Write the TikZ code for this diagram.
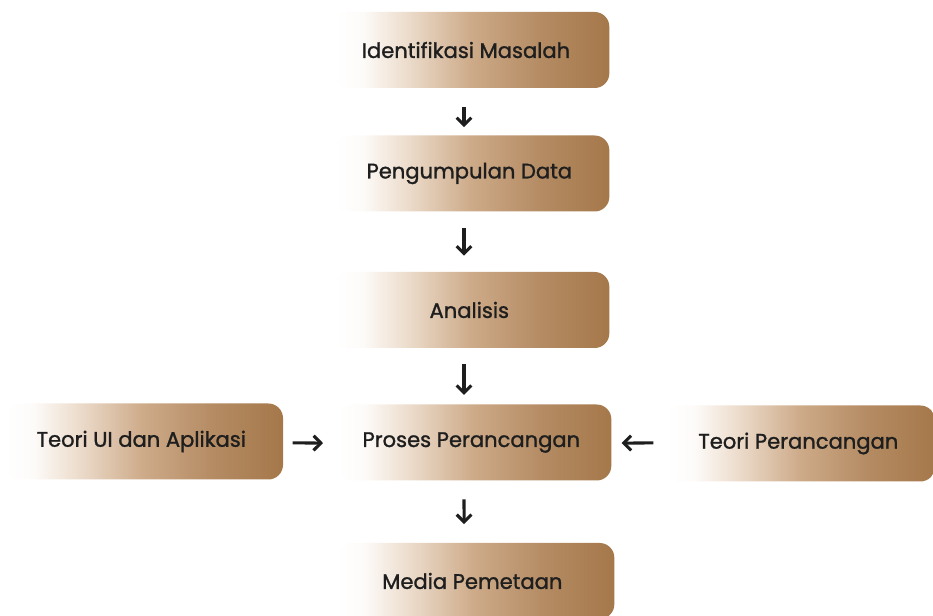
\documentclass[tikz,border=0pt]{standalone}
\usepackage{fontspec}
\setmainfont{Poppins}[FakeBold=1.2]
\newfontfamily\boxfont{Poppins}[FakeBold=1.2]
\usetikzlibrary{arrows.meta}
\definecolor{txt}{HTML}{1E1E1E}
\pgfdeclarehorizontalshading{boxshade}{100bp}{%
  color(0bp)=(white); color(25bp)=(white);
  color(30bp)=(white!97!brown);
  color(37.5bp)=(rgb,255:red,238;green,223;blue,208);
  color(50bp)=(rgb,255:red,205;green,170;blue,136);
  color(62.5bp)=(rgb,255:red,180;green,139;blue,99);
  color(75bp)=(rgb,255:red,165;green,120;blue,74);
  color(100bp)=(rgb,255:red,165;green,120;blue,74)}
\tikzset{
  box/.style={shading=boxshade, rounded corners=11pt, inner sep=0pt,
    minimum width=206pt, minimum height=57pt, text=txt,
    font=\boxfont\fontsize{15.8}{17}\selectfont},
  arr/.style={draw=txt, line width=2.3pt,
    -{Straight Barb[length=5.5pt,width=11pt,line width=2.3pt]}}
}
\begin{document}
\begin{tikzpicture}[x=0.75pt,y=-0.75pt]
\useasboundingbox (0,0) rectangle (933,616);
\begin{scope}
\clip (0,0) rectangle (933,616);
\node[box] (b1) at (472,50) {\hspace*{-9pt}Identifikasi Masalah};
\node[box] (b2) at (472,173.5) {\hspace*{-4pt}Pengumpulan Data};
\node[box] (b3) at (472,310) {\hspace*{-4pt}Analisis};
\node[box] (b4) at (474,442.5) {\hspace*{-4pt}Proses Perancangan};
\node[box, minimum width=209pt] (b5) at (475,581) {\hspace*{-4pt}Media Pemetaan};
\node[box, minimum width=208.5pt] (l) at (144,441.5) {\hspace*{-4pt}Teori UI dan Aplikasi};
\node[box, minimum width=201pt] (r) at (801,443.5) {\hspace*{-4pt}Teori Perancangan};
\end{scope}
\draw[arr, shorten <=14pt, shorten >=6pt] ([xshift=-6pt]b1.south) -- ([xshift=-6pt]b2.north);
\draw[arr, shorten <=12pt, shorten >=12pt] ([xshift=-6pt]b2.south) -- ([xshift=-6pt]b3.north);
\draw[arr, shorten <=12pt, shorten >=7pt] ([xshift=-6pt]b3.south) -- ([xshift=-7.5pt]b4.north);
\draw[arr, shorten <=14pt, shorten >=14pt] ([xshift=-7.5pt]b4.south) -- ([xshift=-8.2pt]b5.north);
\draw[arr, shorten <=7pt, shorten >=10pt] ([yshift=-1pt]l.east) -- ([yshift=-0.5pt]b4.west);
\draw[arr, shorten <=10pt, shorten >=7.5pt] ([yshift=0.5pt]r.west) -- ([yshift=-0.5pt]b4.east);
\end{tikzpicture}
\end{document}
